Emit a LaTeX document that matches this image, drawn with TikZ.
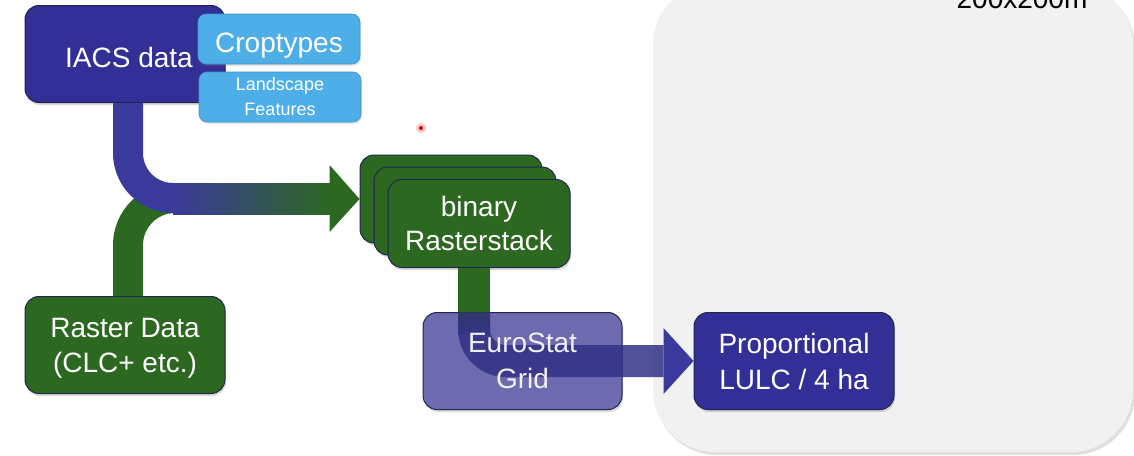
\documentclass[tikz,border=0pt]{standalone}
\usepackage{fontspec}
\setmainfont{Liberation Sans}
\usetikzlibrary{shadows,calc}
\definecolor{iblue}{HTML}{322F96}
\definecolor{lblue}{HTML}{4EAEE8}
\definecolor{rgreen}{HTML}{2C6820}
\definecolor{epurple}{HTML}{6E6AAF}
\definecolor{bandblue}{HTML}{3A3A9C}
\definecolor{edgecol}{HTML}{1F2650}
\definecolor{panelgray}{HTML}{F1F1F1}
\tikzset{
  bigfont/.style={font=\fontsize{28}{35}\selectfont},
  box/.style={rectangle, rounded corners=14pt, inner sep=0pt, draw=edgecol, line width=1pt,
    text=white, align=center, bigfont,
    drop shadow={shadow xshift=1pt, shadow yshift=-2.5pt, opacity=.3}},
  bigbox/.style={box, minimum width=200pt, minimum height=97pt},
  stackbox/.style={box, fill=rgreen, minimum width=182pt, minimum height=88pt},
  tagbox/.style={rectangle, rounded corners=8pt, inner sep=0pt, fill=lblue, draw=lblue!85!black,
    line width=.6pt, text=white, align=center, minimum width=162pt, minimum height=50pt,
    drop shadow={shadow xshift=1pt, shadow yshift=-2pt, opacity=.2}},
  band/.style={line width=30pt},
}
\begin{document}
\begin{tikzpicture}[x=1pt,y=-1pt]
\useasboundingbox (0,0) rectangle (1134,455);
% grey panel
\node[rectangle, rounded corners=62pt, fill=panelgray, minimum width=480pt, minimum height=469pt,
  inner sep=0pt, drop shadow={shadow xshift=2pt, shadow yshift=-3pt, opacity=.25}] (panel) at (893,217.5) {};
\node[anchor=base, bigfont, inner sep=0pt] (scale) at (1022,9) {200x200m};
% pointer dot
\node[circle, fill=red!50, opacity=.45, minimum size=10pt, inner sep=0pt] (dot) at (421,128) {};
\fill[red!85!black] (dot) circle (2pt);
% boxes
\node[bigbox, fill=iblue, text height=26pt, text depth=0pt] (iacs) at (125,54) {\hspace*{8pt}IACS data};
\node[tagbox, font=\fontsize{28}{35}\selectfont, text height=32pt, text depth=6pt] (crop) at (279,39) {Croptypes};
\node[tagbox, font=\fontsize{18}{25}\selectfont] (land) at (280,97) {Landscape\\Features};
\node[bigbox, fill=rgreen, text depth=0pt] (raster) at (125,345) {Raster Data\\(CLC+ etc.)};
\node[stackbox] (stack1) at (451,199) {};
\node[stackbox] (stack2) at (465,211) {};
\node[stackbox, font=\fontsize{28}{34}\selectfont] (stack3) at (479,223.5) {binary\\Rasterstack};
\node[bigbox, fill=iblue, font=\fontsize{28}{36}\selectfont] (prop) at (794,361) {Proportional\\LULC / 4 ha};
% connector from IACS and raster data into the stack
\coordinate (b1) at ($(iacs.south)+(3,0)$);
\coordinate (j1) at (250,198);
\coordinate (j2) at (200,198);
\coordinate (h1) at ($(stack1.west)+(-30,0)$);
\draw[band, rgreen, rounded corners=47pt] ($(raster.north)+(3,0)$) |- (j1);
\draw[band, bandblue, rounded corners=45pt] (b1) |- (j2);
\shade[left color=bandblue, right color=rgreen] (173,183) rectangle ($(h1)+(1,15)$);
\fill[rgreen] ($(h1)+(0,-34)$) -- (stack1.west) -- ($(h1)+(0,33)$) -- cycle;
% connector from stack through grid to proportional
\coordinate (b2) at ($(stack3.south)+(-5,0)$);
\coordinate (h2) at ($(prop.west)+(-30,0)$);
\draw[line width=32pt, rgreen] (b2) -- (b2 |- 0,314);
\node[bigbox, fill=epurple, minimum width=199pt] (euro) at (522.5,361) {};
\draw[line width=32pt, bandblue!85!black, opacity=.85, rounded corners=32pt] (b2 |- euro.north) |- (h2);
\shade[top color=rgreen!45!bandblue!70!black, bottom color=bandblue!85!black, opacity=.5]
  ($(b2 |- euro.north)+(-16,0)$) rectangle ($(b2 |- euro.north)+(16,22)$);
\fill[bandblue] ($(h2)+(0,-33)$) -- (prop.west) -- ($(h2)+(0,33)$) -- cycle;
\node[font=\fontsize{28}{36}\selectfont, text=white!94!black, align=center] (eurotext) at (euro) {EuroStat\\Grid};
\end{tikzpicture}
\end{document}
